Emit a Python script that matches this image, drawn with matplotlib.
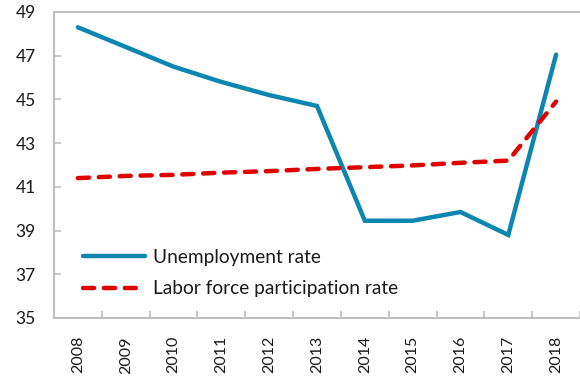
import matplotlib
matplotlib.use('Agg')
import matplotlib.pyplot as plt
import numpy as np

plt.rcParams['font.family'] = ['Lato', 'DejaVu Sans']

years = ['2008', '2009', '2010', '2011', '2012', '2013',
         '2014', '2015', '2016', '2017', '2018']
unemployment = [48.3, 47.4, 46.5, 45.8, 45.2, 44.7,
                39.45, 39.45, 39.85, 38.8, 47.05]
participation = [41.4, 41.5, 41.55, 41.65, 41.72, 41.82,
                 41.9, 41.98, 42.1, 42.2, 44.9]

blue = '#0B86B1'
red = '#E00000'
grey = '#BFBFBF'

fig = plt.figure(figsize=(5.8, 3.78), dpi=100)
ax = fig.add_axes([54 / 580, 60 / 378, 526 / 580, 306 / 378])

x = np.arange(len(years))
ax.plot(x, unemployment, color=blue, lw=3.2, solid_capstyle='round',
        solid_joinstyle='miter', label='Unemployment rate')
ax.plot(x, participation, color=red, lw=3.2, dashes=(2.5, 2.2),
        dash_capstyle='round', label='Labor force participation rate')

ax.set_xlim(-0.5, len(years) - 0.5)
ax.set_ylim(35, 49)
ax.set_yticks(np.arange(35, 50, 2))

# year labels sit between the tick marks at category boundaries
ax.set_xticks(x)
ax.set_xticklabels(years, rotation=90)
ax.set_xticks(np.arange(-0.5, len(years)), minor=True)
ax.tick_params(axis='x', which='major', length=0, pad=13, labelsize=11.5, colors='#1a1a1a')
ax.tick_params(axis='x', which='minor', direction='in', length=5, width=1.2, color=grey)
ax.tick_params(axis='y', direction='in', length=5, width=1.2, color=grey,
               pad=13, labelsize=12.5, labelcolor='#1a1a1a')

for side in ['left', 'bottom', 'top']:
    ax.spines[side].set_color(grey)
    ax.spines[side].set_linewidth(1.5)
ax.spines['right'].set_visible(False)

leg = ax.legend(loc='center left', bbox_to_anchor=(0.055, 0.147), frameon=False,
                fontsize=13.8, handlelength=3.23, handletextpad=0.42,
                labelspacing=0.78, borderpad=0, borderaxespad=0)
for t in leg.get_texts():
    t.set_color('#1a1a1a')

fig.savefig('out.png', dpi=100)
